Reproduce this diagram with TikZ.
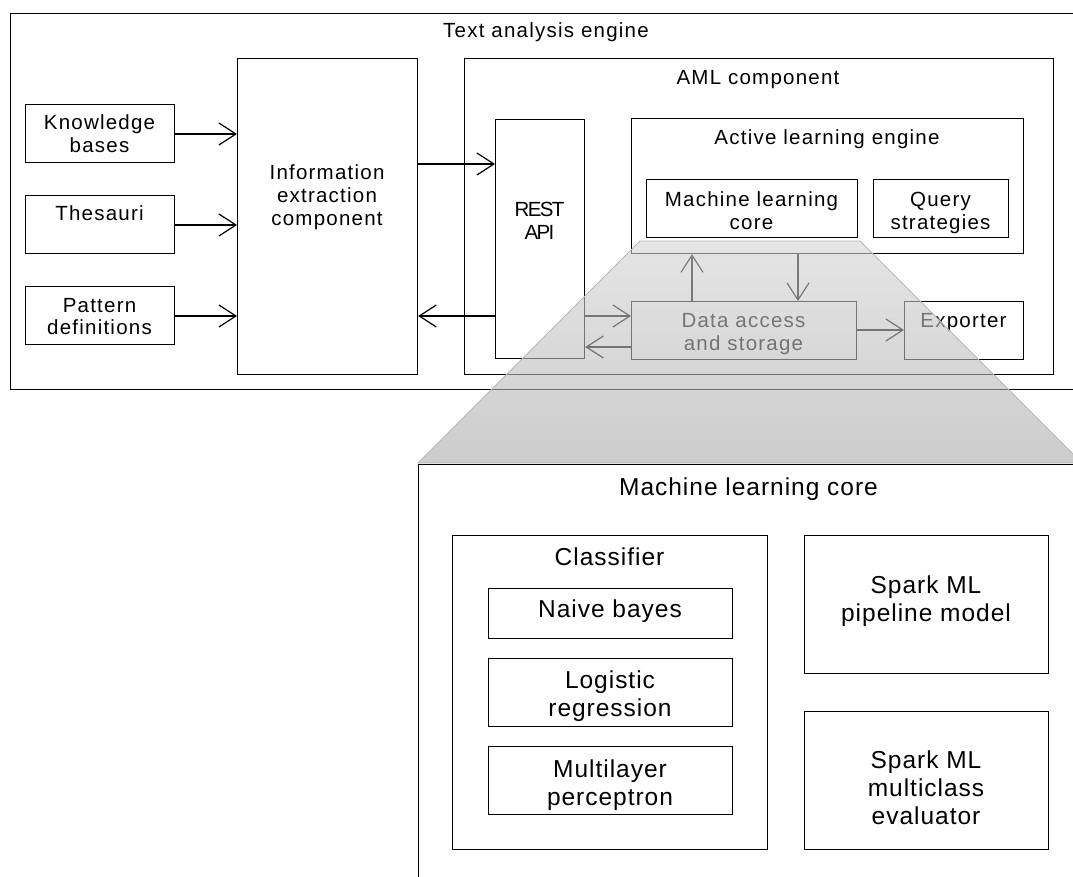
\documentclass[tikz,border=0pt]{standalone}
\usepackage{fontspec}
\setmainfont{Liberation Sans}[LetterSpace=6]
\newfontfamily\lowfam{Liberation Sans}[LetterSpace=4]
\newfontfamily\restfam{Liberation Sans}[LetterSpace=-8]
\usetikzlibrary{arrows.meta}
\newcommand\topfont{\fontsize{20.5}{23}\selectfont}
\newcommand\lowfont{\lowfam\fontsize{24.5}{28}\selectfont}
% stacked, centred lines whose baseline is that of the first line
\newcommand\stack[1]{\begin{tabular}[t]{@{}c@{}}#1\end{tabular}}
\definecolor{zoomtop}{RGB}{212,212,212}
\definecolor{zoombot}{RGB}{170,170,170}
\tikzset{
  box/.style={draw, line width=1.2pt, inner sep=0pt, anchor=north west},
  txt/.style={inner sep=0pt, anchor=base, font=\topfont},
  lowtxt/.style={inner sep=0pt, anchor=base, font=\lowfont},
  arr/.style={line width=1.2pt, -{Straight Barb[length=17pt, width=22pt]}},
}
\begin{document}
\begin{tikzpicture}[x=1pt, y=-1pt]
\path[use as bounding box] (0,0) rectangle (1073,877);
\clip (0,0) rectangle (1073,877);

% ---- text analysis engine ----
\node[box, minimum width=1080pt, minimum height=376pt] (tae) at (10,13) {};
\node[txt] (tae-t) at (546,38) {Text analysis engine};

\node[box, minimum width=149pt, minimum height=58pt] (kb) at (25,104) {};
\node[txt] (kb-t) at (99.5,130) {\stack{Knowledge\\bases}};
\node[box, minimum width=149pt, minimum height=58pt] (th) at (25,195) {};
\node[txt] (th-t) at (99.5,221) {Thesauri};
\node[box, minimum width=149pt, minimum height=58pt] (pd) at (25,286) {};
\node[txt] (pd-t) at (99.5,312) {\stack{Pattern\\definitions}};

\node[box, minimum width=180pt, minimum height=316pt] (ie) at (237,58) {};
\node[txt] (ie-t) at (327,180) {\stack{Information\\extraction\\component}};

% ---- AML component ----
\node[box, minimum width=589pt, minimum height=316pt] (aml) at (464,58) {};
\node[txt] (aml-t) at (758,85) {AML component};

\node[box, minimum width=89pt, minimum height=239pt] (rest) at (495,119) {};
\node[txt, font=\restfam\topfont] (rest-t) at (539.5,217) {\stack{REST\\API}};

\node[box, minimum width=392pt, minimum height=135pt] (ale) at (631,118) {};
\node[txt] (ale-t) at (827,145) {Active learning engine};
\node[box, minimum width=211pt, minimum height=58pt] (mlc) at (646,179) {};
\node[txt] (mlc-t) at (751.5,207) {\stack{Machine learning\\core}};
\node[box, minimum width=135pt, minimum height=58pt] (qs) at (873,179) {};
\node[txt] (qs-t) at (940.5,207) {\stack{Query\\strategies}};

\node[box, minimum width=225pt, minimum height=58pt] (da) at (631,301) {};
\node[txt] (da-t) at (743.5,327) {\stack{Data access\\and storage}};
\node[box, minimum width=119pt, minimum height=58pt] (ex) at (904,301) {};
\node[txt] (ex-t) at (963.5,327) {Exporter};

% ---- connectors ----
\draw[arr] (kb.east |- 0,134) -- (ie.west |- 0,134);
\draw[arr] (th.east |- 0,225) -- (ie.west |- 0,225);
\draw[arr] (pd.east |- 0,316) -- (ie.west |- 0,316);
\draw[arr] (ie.east |- 0,164) -- (rest.west |- 0,164);
\draw[arr] (rest.west |- 0,316) -- (ie.east |- 0,316);
\draw[arr] (rest.east |- 0,316) -- (da.west |- 0,316);
\draw[arr] (da.west |- 0,347) -- (rest.east |- 0,347);
\draw[arr] (da.north -| 692,0) -- (ale.south -| 692,0);
\draw[arr] (ale.south -| 798,0) -- (da.north -| 798,0);
\draw[arr] (da.east |- 0,330) -- (ex.west |- 0,330);

% ---- magnifying projection of the machine learning core ----
\shadedraw[top color=zoomtop, bottom color=zoombot, fill opacity=0.6,
  draw=black!28, line width=0.8pt]
  (640,241) -- (860,241) -- (1082,463) -- (418,463) -- cycle;

% ---- machine learning core in detail ----
\node[box, minimum width=677pt, minimum height=436pt] (ml) at (418,464) {};
\node[lowtxt] (ml-t) at (748.5,495) {Machine learning core};

\node[box, minimum width=315pt, minimum height=314pt] (cls) at (452,535) {};
\node[lowtxt] (cls-t) at (609.5,565) {Classifier};
\node[box, minimum width=244pt, minimum height=50pt] (nb) at (488,588) {};
\node[lowtxt] (nb-t) at (610,617) {Naive bayes};
\node[box, minimum width=244pt, minimum height=68pt] (lr) at (488,658) {};
\node[lowtxt] (lr-t) at (610,688) {\stack{Logistic\\regression}};
\node[box, minimum width=244pt, minimum height=68pt] (mp) at (488,746) {};
\node[lowtxt] (mp-t) at (610,777) {\stack{Multilayer\\perceptron}};

\node[box, minimum width=244pt, minimum height=138pt] (sp) at (804,535) {};
\node[lowtxt] (sp-t) at (926,593) {\stack{Spark ML\\pipeline model}};
\node[box, minimum width=244pt, minimum height=138pt] (se) at (804,711) {};
\node[lowtxt] (se-t) at (926,768) {\stack{Spark ML\\multiclass\\evaluator}};
\end{tikzpicture}
\end{document}
